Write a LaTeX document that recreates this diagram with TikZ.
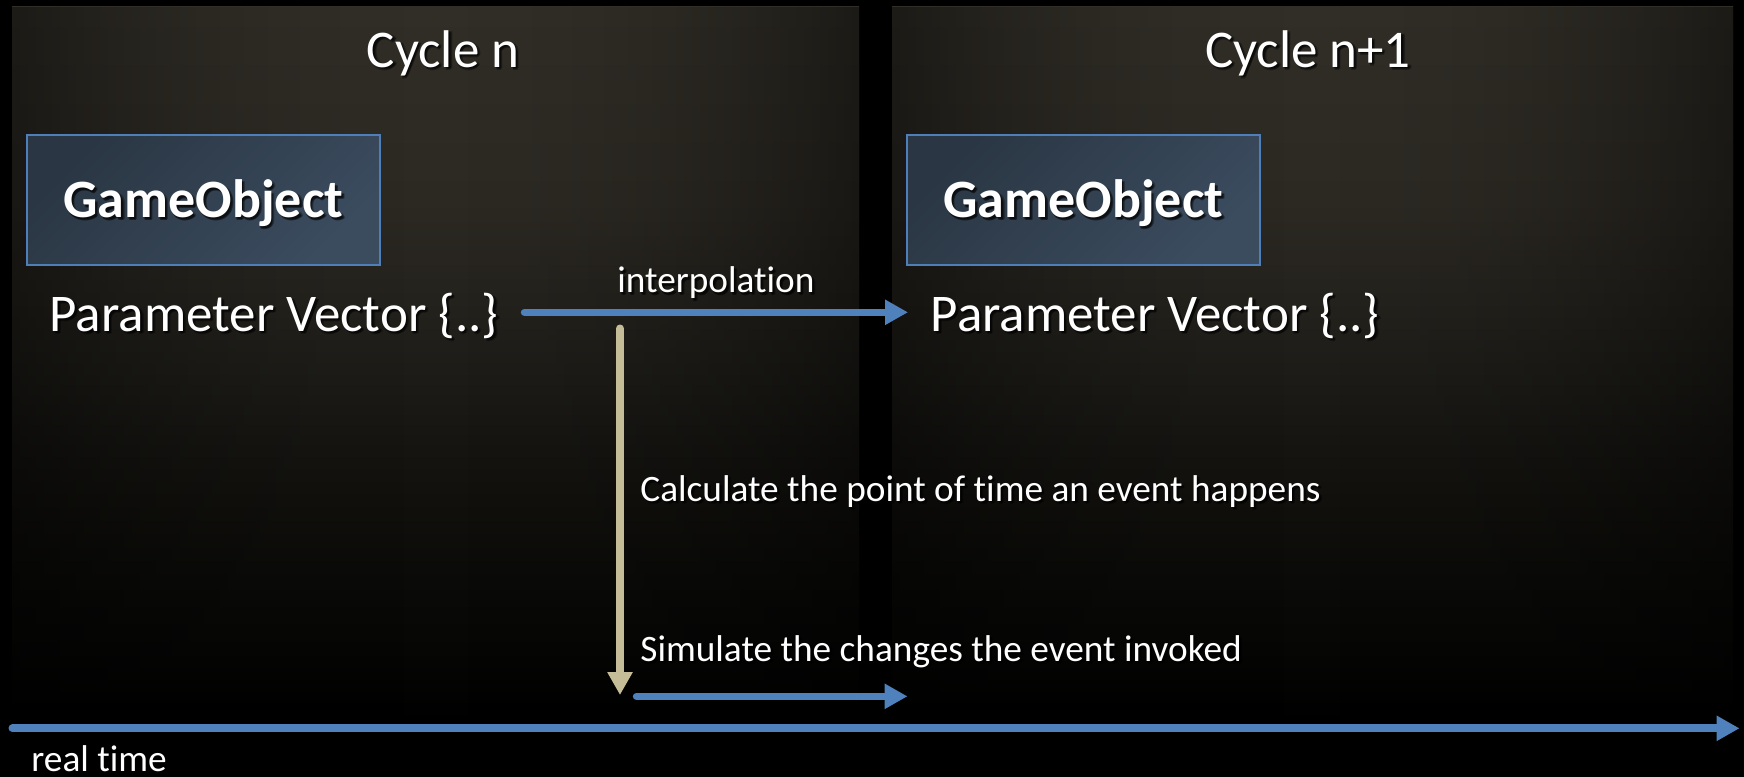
\documentclass[tikz,border=0pt]{standalone}
\usepackage{fontspec}
\setmainfont{Carlito}[Ligatures=NoCommon]
\usetikzlibrary{arrows.meta}

% palette
\definecolor{flowblue}{HTML}{4F81BD}
\definecolor{eventtan}{HTML}{C4BD97}
\definecolor{boxtopleft}{HTML}{2A3643}
\definecolor{boxbottomright}{HTML}{3B4C5F}
\definecolor{boxedge}{HTML}{4F7FBA}
\definecolor{fadeA}{HTML}{312E27}
\definecolor{fadeB}{HTML}{2C2923}
\definecolor{fadeC}{HTML}{24221D}
\definecolor{fadeD}{HTML}{1C1B17}
\definecolor{fadeE}{HTML}{151411}
\definecolor{fadeF}{HTML}{11100D}
\definecolor{fadeG}{HTML}{0A0A08}
\definecolor{fadeH}{HTML}{060605}

% light at the top of each cycle panel, sinking into black further down
% (a shaded path spans 25bp..75bp of a vertical shading)
\pgfdeclareverticalshading{panelfade}{100bp}{%
  color(0bp)=(black); color(28.6bp)=(black); color(33.2bp)=(fadeH);
  color(37.7bp)=(fadeG); color(42.95bp)=(fadeF); color(46.2bp)=(fadeE);
  color(50.75bp)=(fadeD); color(55.95bp)=(fadeC); color(62.45bp)=(fadeB);
  color(75bp)=(fadeA); color(100bp)=(fadeA)}

\tikzset{
  bigtext/.style={inner sep=0pt, text=white, font=\fontsize{53}{60}\selectfont},
  smalltext/.style={inner sep=0pt, text=white, font=\fontsize{37.3}{44}\selectfont},
  boldtext/.style={inner sep=0pt, text=white, font=\fontsize{54}{62}\selectfont\bfseries},
  objbox/.style={draw=boxedge, line width=2pt,
    top color=boxtopleft, bottom color=boxbottomright, shading angle=45,
    minimum width=353pt, minimum height=130pt, inner sep=0pt},
  flowarrow/.style={draw=flowblue, line width=7.4pt, line cap=round,
    -{Triangle[length=23pt,width=24pt]}},
  timearrow/.style={draw=flowblue, line width=8pt, line cap=round,
    -{Triangle[length=23pt,width=24pt]}},
  eventarrow/.style={draw=eventtan, line width=8pt, line cap=round,
    -{Triangle[length=23pt,width=24pt]}},
}

% text with a soft dark drop shadow: name, style, base position, text
\newcommand\shadowedtext[4]{%
  \foreach \dx/\dy [count=\k] in {1.2/1.5, 2.4/2.6, 1.8/3.2, 3.2/2.0}
    \node[#2, text=black, text opacity=0.3, xshift=\dx pt, yshift=-\dy pt] (#1-shadow-\k) at (#3) {#4};
  \node[#2] (#1) at (#3) {#4};}

% darken a panel towards its left and right edges: left x, right x
\newcommand\panelvignette[2]{%
  \pgfmathsetmacro\pcx{(#1+#2)/2}
  \pgfmathsetmacro\phw{(#2-#1)/2}
  \foreach \j in {0,...,105}{
    \pgfmathsetmacro\xa{#1+8*\j}
    \pgfmathsetmacro\xb{min(\xa+8,#2)}
    \pgfmathsetmacro\rel{(\xa+4-\pcx)/\phw}
    \pgfmathsetmacro\op{min(0.6,0.42*\rel*\rel)}
    \fill[black, fill opacity=\op] (\xa,7) rectangle (\xb,776);
  }}

\begin{document}
\begin{tikzpicture}[x=1pt, y=-1pt]
  % page frame first, then a background a little larger than the page
  \useasboundingbox (0,0) rectangle (1744,776);
  \begin{pgfinterruptboundingbox}
    \fill[black] (-6,-6) rectangle (1750,782);
  \end{pgfinterruptboundingbox}
  \shade[shading=panelfade] (12,7) rectangle (859,776);
  \shade[shading=panelfade] (892,7) rectangle (1733,776);
  \panelvignette{12}{859}
  \panelvignette{892}{1733}

  % panel titles
  \shadowedtext{cycA}{bigtext, anchor=base}{443,67}{Cycle n}
  \shadowedtext{cycB}{bigtext, anchor=base}{1308,67}{Cycle n+1}

  % game objects
  \node[objbox] (objA) at (203.5,200) {};
  \node[objbox] (objB) at (1083.5,200) {};
  \shadowedtext{objAlabel}{boldtext, anchor=base}{203.5,217.5}{GameObject}
  \shadowedtext{objBlabel}{boldtext, anchor=base}{1083.5,217.5}{GameObject}

  % parameter vectors
  \shadowedtext{vecA}{bigtext, anchor=base west}{49.5,331}{Parameter Vector \{..\}}
  \shadowedtext{vecB}{bigtext, anchor=base west}{930.5,331}{Parameter Vector \{..\}}

  % arrow end points
  \coordinate (interpFrom) at (524.5,312.3);
  \coordinate (interpTo)   at (908,312.3);
  \coordinate (eventFrom)  at (620,328.5);
  \coordinate (eventTo)    at (620,695);
  \coordinate (simFrom)    at (636.5,696.3);
  \coordinate (simTo)      at (907.5,696.3);
  \coordinate (timeFrom)   at (12.5,728.3);
  \coordinate (timeTo)     at (1739.5,728.3);

  % interpolation between the two cycles
  \draw[flowarrow] (interpFrom) -- (interpTo);
  \shadowedtext{interpLbl}{smalltext, anchor=base west}{617.2,292.7}{interpolation}

  % event handling inside the cycle
  \draw[eventarrow] (eventFrom) -- (eventTo);
  \shadowedtext{calcLbl}{smalltext, anchor=base west}{640.2,501}{Calculate the point of time an event happens}
  \shadowedtext{simLbl}{smalltext, anchor=base west}{640.2,661}{Simulate the changes the event invoked}
  \draw[flowarrow] (simFrom) -- (simTo);

  % real time axis
  \draw[timearrow] (timeFrom) -- (timeTo);
  \shadowedtext{timeLbl}{smalltext, anchor=base west}{31.2,771}{real time}
\end{tikzpicture}
\end{document}
